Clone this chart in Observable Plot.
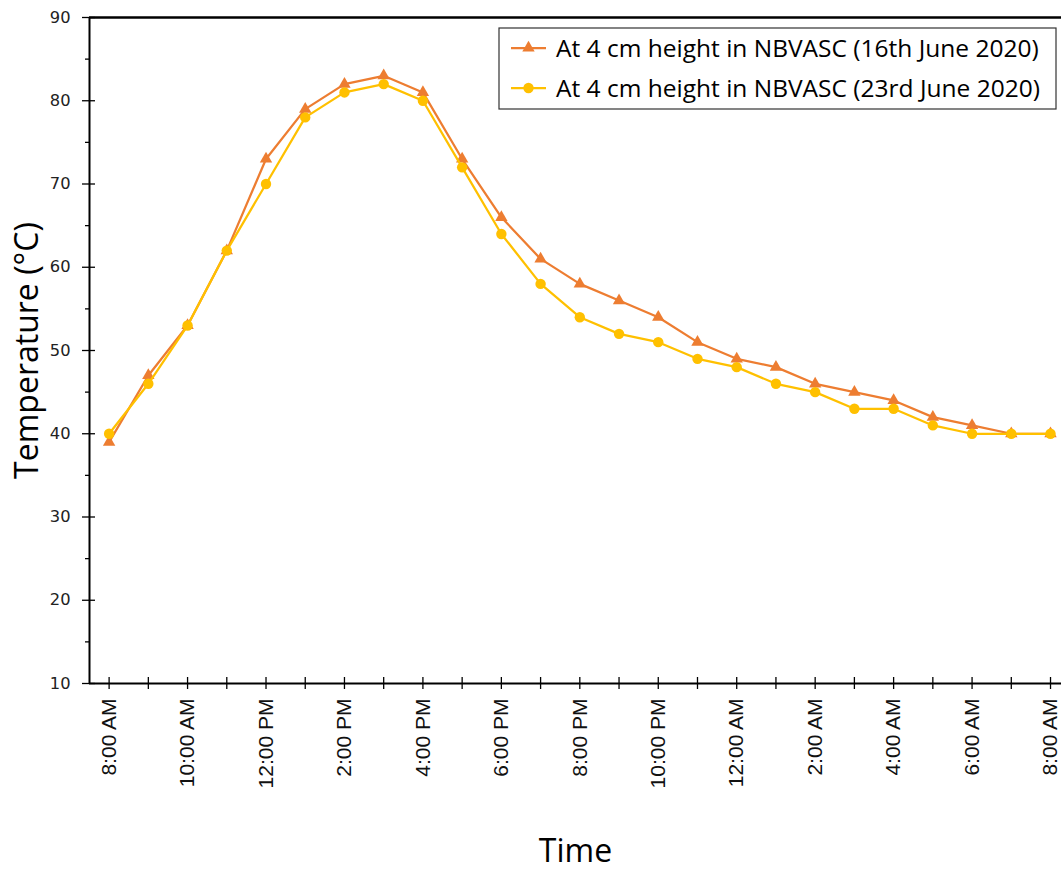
<!DOCTYPE html>
<html><head><meta charset="utf-8">
<script src="https://cdn.jsdelivr.net/npm/d3@7"></script>
<script src="https://cdn.jsdelivr.net/npm/@observablehq/plot@0.6"></script>
<style>
body{margin:0;background:#fff}
#chart{position:relative;width:1061px;height:870px;overflow:hidden}
</style>
</head><body><div id="chart"></div>
<script>
const times = ["8:00 AM","9:00 AM","10:00 AM","11:00 AM","12:00 PM","1:00 PM","2:00 PM","3:00 PM","4:00 PM","5:00 PM","6:00 PM","7:00 PM","8:00 PM","9:00 PM","10:00 PM","11:00 PM","12:00 AM","1:00 AM","2:00 AM","3:00 AM","4:00 AM","5:00 AM","6:00 AM","7:00 AM","8:00 AM"];
const seriesNames = ["At 4 cm height in NBVASC (16th June 2020)", "At 4 cm height in NBVASC (23rd June 2020)"];
const june16 = [39,47,53,62,73,79,82,83,81,73,66,61,58,56,54,51,49,48,46,45,44,42,41,40,40];
const june23 = [40,46,53,62,70,78,81,82,80,72,64,58,54,52,51,49,48,46,45,43,43,41,40,40,40];
const yMajorTicks = [10,20,30,40,50,60,70,80,90];
const yMinorTicks = [15,25,35,45,55,65,75,85];
const colors = ["#ED7D31", "#FFC000"];
const symbols = ["triangle", "circle"];
const xTitle = "Time";
const yTitle = "Temperature (°C)";

const seriesValues = [june16, june23];
const rows = seriesNames.map((name, s) => seriesValues[s].map((v, i) => ({i, time: times[i], value: v, series: name})));
const xIdx = times.map((_, i) => i);

const marks = [
  Plot.ruleY([90], {stroke: "#000", strokeWidth: 2.5}),
  Plot.ruleY([10], {stroke: "#000", strokeWidth: 2}),
  Plot.ruleX([-0.5], {stroke: "#000", strokeWidth: 2}),
  Plot.axisY({ticks: yMajorTicks, tickSize: 13, dx: 6, tickFormat: () => "", label: null, strokeWidth: 1.3}),
  Plot.axisY({ticks: yMinorTicks, tickSize: 4, tickFormat: () => "", label: null, strokeWidth: 1.3}),
  Plot.axisY({ticks: yMajorTicks, tickSize: 0, tickPadding: 19, label: null, fontSize: 16.3, fontFamily: "DejaVu Sans", fill: "#222"}),
  Plot.axisX({ticks: xIdx, tickSize: 12, dy: -6, tickFormat: () => "", label: null, strokeWidth: 1.3}),
  Plot.axisX({ticks: xIdx.filter(i => i % 2 === 0), tickSize: 0, tickPadding: 15, tickRotate: -90, tickFormat: i => times[i], label: null, fontSize: 21, fontFamily: "Liberation Sans, Arial", fill: "#111"}),
];
rows.forEach((data, s) => {
  marks.push(Plot.line(data, {x: "i", y: "value", stroke: colors[s], strokeWidth: 2.25}));
  marks.push(Plot.dot(data, {x: "i", y: "value", symbol: symbols[s], r: s === 0 ? 4.6 : 5.2, fill: colors[s], stroke: "none"}));
});
marks.push(Plot.text([xTitle], {frameAnchor: "bottom", dy: 168, lineAnchor: "middle", textAnchor: "middle", fontSize: 32, fontFamily: "Open Sans", fill: "#000"}));
marks.push(Plot.text([yTitle], {frameAnchor: "left", dx: -62, rotate: -90, textAnchor: "middle", lineAnchor: "middle", fontSize: 32, fontFamily: "Open Sans", fill: "#000"}));

const plot = Plot.plot({
  width: 1061,
  height: 870,
  marginTop: 17,
  marginBottom: 187,
  marginLeft: 89,
  marginRight: 0,
  x: {type: "linear", domain: [-0.5, 24.28]},
  y: {domain: [10, 90]},
  style: {background: "#fff", overflow: "visible"},
  marks
});
document.getElementById("chart").appendChild(plot);

const svg = d3.select(plot);
svg.selectAll('g[aria-label="x-axis tick label"]').attr("font-size", 21).style("font-size", "21px").style("font-family", "'Liberation Sans', Arial, sans-serif");
svg.selectAll('g[aria-label="y-axis tick label"]').attr("font-size", 16.3).style("font-size", "16.3px").style("font-family", "'DejaVu Sans', sans-serif");

// Legend box inside the plot, top-right
const lg = svg.append("g").attr("transform", "translate(499,28)");
lg.append("rect").attr("x", 0).attr("y", 0).attr("width", 557).attr("height", 81)
  .attr("fill", "#fff").attr("stroke", "#333").attr("stroke-width", 1.2);
seriesNames.forEach((name, s) => {
  const cy = 20 + s * 40;
  const g = lg.append("g").attr("transform", `translate(0,${cy})`);
  g.append("line").attr("x1", 12).attr("x2", 47).attr("y1", 0).attr("y2", 0)
    .attr("stroke", colors[s]).attr("stroke-width", 2.25);
  const sym = s === 0 ? d3.symbolTriangle : d3.symbolCircle;
  const r = s === 0 ? 4.6 : 5.2;
  g.append("path").attr("d", d3.symbol(sym, Math.PI * r * r)()).attr("transform", "translate(29.5,0)").attr("fill", colors[s]);
  g.append("text").attr("x", 57).attr("y", 0).attr("dy", "0.36em").attr("text-anchor", "start")
    .style("font-family", "'Open Sans', sans-serif").style("font-size", "24.5px").attr("fill", "#000").text(name);
});
</script>
</body></html>
